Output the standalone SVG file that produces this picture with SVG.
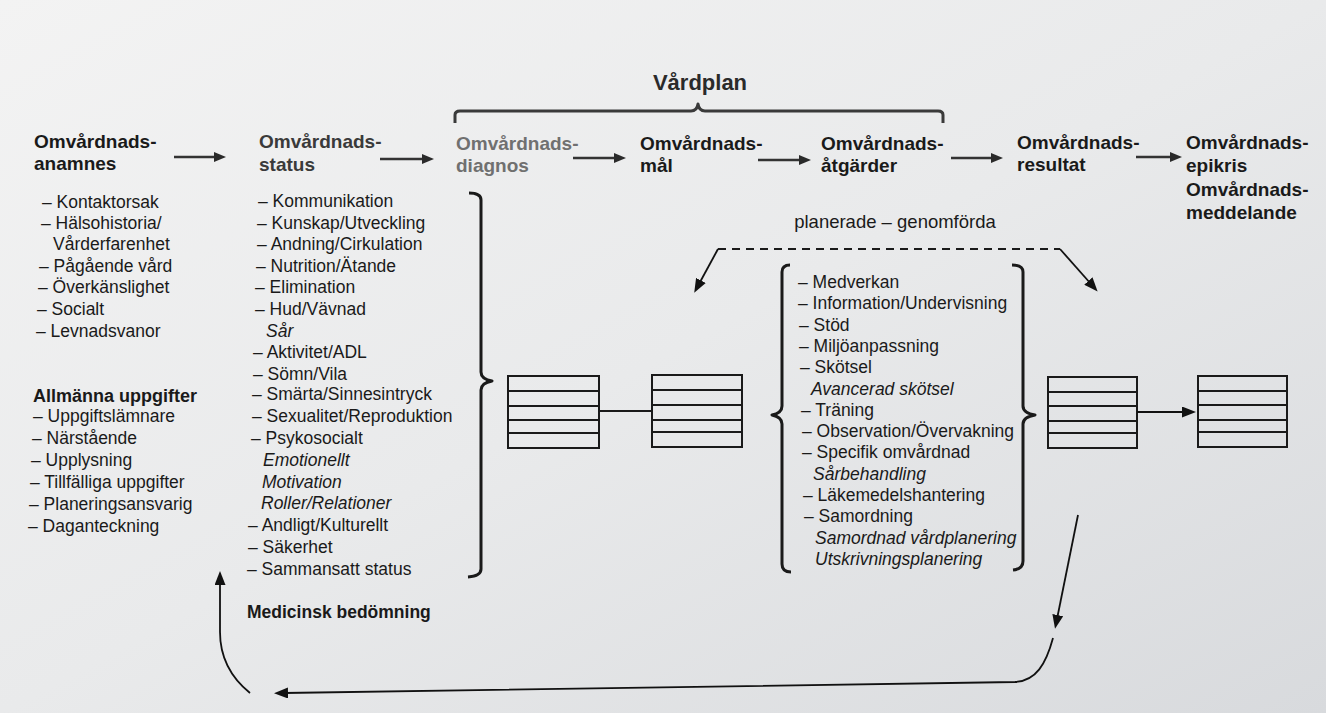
<svg xmlns="http://www.w3.org/2000/svg" width="1326" height="713" viewBox="0 0 1326 713">
<defs>
<linearGradient id="bg" x1="0" y1="0" x2="1" y2="1">
<stop offset="0" stop-color="#f3f3f3"/>
<stop offset="0.5" stop-color="#e9eaeb"/>
<stop offset="1" stop-color="#d8dadd"/>
</linearGradient>
<marker id="ah" viewBox="0 0 12 10" markerWidth="12" markerHeight="10" refX="6" refY="5" markerUnits="userSpaceOnUse" orient="auto">
<path d="M0,0 L12,5 L0,10 z" fill="#2a2a2a"/>
</marker>
<marker id="ahs" viewBox="0 0 14 11" markerWidth="14" markerHeight="11" refX="4" refY="5.5" markerUnits="userSpaceOnUse" orient="auto">
<path d="M0,0 L14,5.5 L0,11 z" fill="#111"/>
</marker>
<style>
text{font-family:"Liberation Sans",Arial,sans-serif;fill:#1a1a1a}
.h{font-size:19px;font-weight:bold}
.b{font-size:17.5px}
.i{font-size:17.5px;font-style:italic}
.bb{font-size:18px;font-weight:bold}
.hdr{stroke:#333;stroke-width:2.6;fill:none}
.thin{stroke:#111;stroke-width:1.8;fill:none}
.brace{stroke:#1a1a1a;stroke-width:3;fill:none;stroke-linejoin:round}
.tbl{fill:none;stroke:#1a1a1a;stroke-width:2}
</style>
</defs>
<rect x="0" y="0" width="1326" height="713" fill="url(#bg)"/>

<g id="vardplan">
<text x="700" y="90" text-anchor="middle" style="font-size:22px;font-weight:bold;fill:#2a2a2a">Vårdplan</text>
<path class="brace" style="stroke:#3a3a3a" d="M455,123 L455,115 Q455,111 460,111 L691,111 Q697,111 698,104 Q699,111 705,111 L938,111 Q943,111 943,115 L943,123"/>
</g>

<g id="anamnes">
<text class="h" x="34" y="148">Omvårdnads-</text>
<text class="h" x="34" y="170">anamnes</text>
</g>
<g id="status">
<text class="h" x="259" y="148" style="fill:#3a3a3a">Omvårdnads-</text>
<text class="h" x="259" y="171" style="fill:#3a3a3a">status</text>
</g>
<g id="diagnos">
<text class="h" x="456" y="150" style="fill:#707070">Omvårdnads-</text>
<text class="h" x="456" y="172" style="fill:#707070">diagnos</text>
</g>
<g id="mal">
<text class="h" x="640" y="150">Omvårdnads-</text>
<text class="h" x="640" y="172">mål</text>
</g>
<g id="atgarder">
<text class="h" x="821" y="150">Omvårdnads-</text>
<text class="h" x="821" y="172">åtgärder</text>
</g>
<g id="resultat">
<text class="h" x="1017" y="149">Omvårdnads-</text>
<text class="h" x="1017" y="171">resultat</text>
</g>
<g id="epikris">
<text class="h" x="1186" y="149">Omvårdnads-</text>
<text class="h" x="1186" y="172">epikris</text>
<text class="h" x="1186" y="196">Omvårdnads-</text>
<text class="h" x="1186" y="219">meddelande</text>
</g>

<g id="anamnes-list">
<text class="b" x="42" y="208">– Kontaktorsak</text>
<text class="b" x="41" y="229">– Hälsohistoria/</text>
<text class="b" x="53" y="250">Vårderfarenhet</text>
<text class="b" x="39" y="272">– Pågående vård</text>
<text class="b" x="38" y="293">– Överkänslighet</text>
<text class="b" x="37" y="315">– Socialt</text>
<text class="b" x="36" y="337">– Levnadsvanor</text>
</g>

<g id="allmanna">
<text class="bb" x="33" y="402">Allmänna uppgifter</text>
<text class="b" x="33" y="422">– Uppgiftslämnare</text>
<text class="b" x="32" y="444">– Närstående</text>
<text class="b" x="31" y="466">– Upplysning</text>
<text class="b" x="30" y="488">– Tillfälliga uppgifter</text>
<text class="b" x="29" y="510">– Planeringsansvarig</text>
<text class="b" x="28" y="532">– Daganteckning</text>
</g>

<g id="status-list">
<text class="b" x="258" y="207">– Kommunikation</text>
<text class="b" x="257" y="229">– Kunskap/Utveckling</text>
<text class="b" x="257" y="250">– Andning/Cirkulation</text>
<text class="b" x="256" y="272">– Nutrition/Ätande</text>
<text class="b" x="255" y="293">– Elimination</text>
<text class="b" x="255" y="315">– Hud/Vävnad</text>
<text class="i" x="266" y="337">Sår</text>
<text class="b" x="253" y="358">– Aktivitet/ADL</text>
<text class="b" x="253" y="380">– Sömn/Vila</text>
<text class="b" x="252" y="400">– Smärta/Sinnesintryck</text>
<text class="b" x="252" y="422">– Sexualitet/Reproduktion</text>
<text class="b" x="251" y="444">– Psykosocialt</text>
<text class="i" x="263" y="466">Emotionellt</text>
<text class="i" x="262" y="488">Motivation</text>
<text class="i" x="261" y="509">Roller/Relationer</text>
<text class="b" x="248" y="531">– Andligt/Kulturellt</text>
<text class="b" x="248" y="553">– Säkerhet</text>
<text class="b" x="247" y="575">– Sammansatt status</text>
</g>

<g id="medicinsk">
<text class="bb" x="247" y="618" style="font-size:17.5px">Medicinsk bedömning</text>
</g>

<g id="status-brace">
<path class="brace" d="M469,193 Q481,193 481,200 L481,372 Q481,379 492,381 Q481,383 481,390 L481,569 Q481,576 468,577"/>
</g>

<g id="planerade">
<text x="895" y="228" text-anchor="middle" style="font-size:18.5px">planerade – genomförda</text>
</g>

<g id="atgarder-list">
<path class="brace" d="M790,265 Q782,265 782,272 L782,406 Q782,413 772,415 Q782,417 782,424 L782,564 Q782,572 791,572"/>
<path class="brace" d="M1012,265 Q1023,265 1023,272 L1023,406 Q1023,413 1035,415 Q1023,417 1023,424 L1023,561 Q1023,569 1013,570"/>
<text class="b" x="798" y="288">– Medverkan</text>
<text class="b" x="798" y="309">– Information/Undervisning</text>
<text class="b" x="799" y="331">– Stöd</text>
<text class="b" x="799" y="352">– Miljöanpassning</text>
<text class="b" x="800" y="373">– Skötsel</text>
<text class="i" x="811" y="395">Avancerad skötsel</text>
<text class="b" x="801" y="416">– Träning</text>
<text class="b" x="802" y="437">– Observation/Övervakning</text>
<text class="b" x="802" y="458">– Specifik omvårdnad</text>
<text class="i" x="813" y="480">Sårbehandling</text>
<text class="b" x="803" y="501">– Läkemedelshantering</text>
<text class="b" x="804" y="522">– Samordning</text>
<text class="i" x="815" y="544">Samordnad vårdplanering</text>
<text class="i" x="815" y="565">Utskrivningsplanering</text>
</g>

<g id="table-diagnos">
<rect class="tbl" x="508" y="376" width="91" height="72"/>
<path class="tbl" d="M508,391 H599 M508,406 H599 M508,420 H599 M508,433 H599"/>
</g>
<g id="table-mal">
<rect class="tbl" x="652" y="375" width="90" height="72"/>
<path class="tbl" d="M652,390 H742 M652,405 H742 M652,420 H742 M652,432 H742"/>
</g>
<g id="table-resultat">
<rect class="tbl" x="1048" y="377" width="89" height="71"/>
<path class="tbl" d="M1048,392 H1137 M1048,406 H1137 M1048,421 H1137 M1048,433 H1137"/>
</g>
<g id="table-epikris">
<rect class="tbl" x="1198" y="376" width="89" height="71"/>
<path class="tbl" d="M1198,391 H1287 M1198,405 H1287 M1198,420 H1287 M1198,432 H1287"/>
</g>

<g id="connectors">
<line class="hdr" x1="174" y1="157" x2="220" y2="157" marker-end="url(#ah)"/>
<line class="hdr" x1="380" y1="159" x2="428" y2="159" marker-end="url(#ah)"/>
<line class="hdr" x1="573" y1="158" x2="620" y2="158" marker-end="url(#ah)"/>
<line class="hdr" x1="758" y1="160" x2="805" y2="160" marker-end="url(#ah)"/>
<line class="hdr" x1="951" y1="158" x2="997" y2="158" marker-end="url(#ah)"/>
<line class="hdr" x1="1136" y1="157" x2="1176" y2="157" marker-end="url(#ah)"/>
<line x1="718" y1="249" x2="1060" y2="249" stroke="#1a1a1a" stroke-width="1.8" stroke-dasharray="8,6"/>
<path class="thin" d="M718,249 L699,284" marker-end="url(#ahs)"/>
<path class="thin" d="M1060,249 L1091,284" marker-end="url(#ahs)"/>
<line x1="599" y1="411" x2="652" y2="411" stroke="#1a1a1a" stroke-width="1.8"/>
<line class="thin" x1="1137" y1="412" x2="1186" y2="412" marker-end="url(#ahs)"/>
<path class="thin" d="M1078,515 L1057,619" marker-end="url(#ahs)"/>
<path class="thin" d="M1053,638 C1046,664 1036,681 1015,682 L284,693" marker-end="url(#ahs)"/>
<path class="thin" d="M250,693 C229,676 220,656 220,632 L220,581" marker-end="url(#ahs)"/>
</g>
</svg>
